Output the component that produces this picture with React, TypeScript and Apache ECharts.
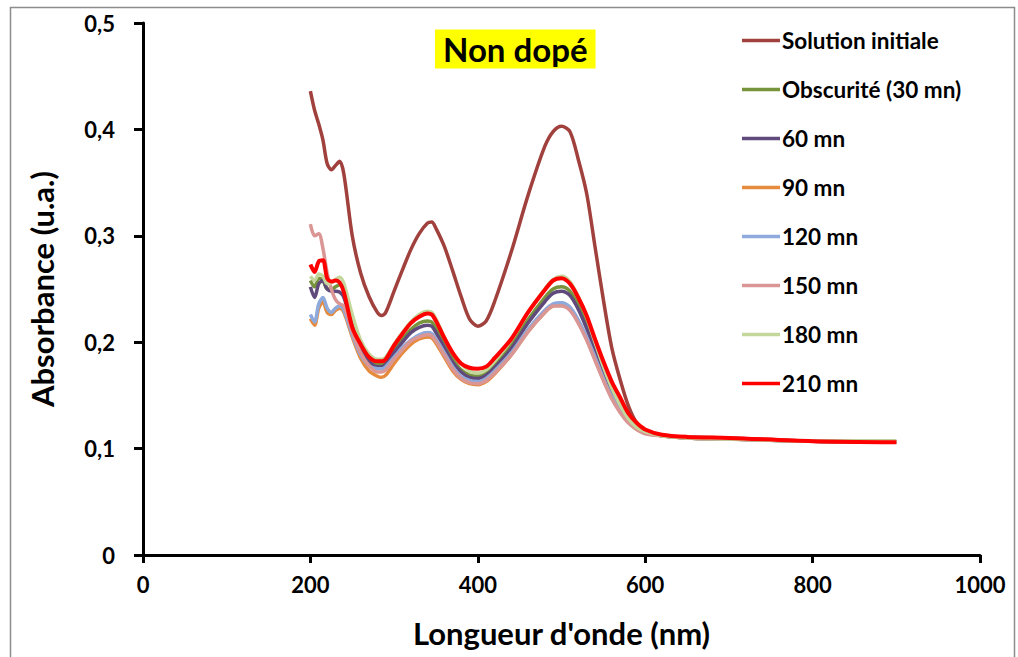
import React, { useEffect, useRef } from "react";
import * as echarts from "echarts";

const wavelengths = [200, 205, 210, 215, 220, 225, 230, 235, 240, 250, 260, 270, 280, 285, 290, 300, 310, 320, 330, 340, 345, 350, 360, 370, 380, 390, 400, 410, 420, 440, 460, 480, 490, 500, 510, 520, 530, 540, 550, 560, 570, 580, 590, 600, 620, 650, 700, 800, 900];

const seriesNames = ["Solution initiale", "Obscurité (30 mn)", "60 mn", "90 mn", "120 mn", "150 mn", "180 mn", "210 mn"];
const seriesColors = ["#A0413D", "#77933C", "#604A7B", "#E68A3E", "#8EA9DB", "#D99694", "#C3D69B", "#FF0000"];

const solutionInitiale = [0.436, 0.418, 0.405, 0.39, 0.368, 0.362, 0.366, 0.37, 0.358, 0.3, 0.265, 0.243, 0.228, 0.225, 0.228, 0.248, 0.268, 0.287, 0.302, 0.312, 0.313, 0.307, 0.29, 0.267, 0.243, 0.222, 0.215, 0.22, 0.238, 0.285, 0.338, 0.384, 0.398, 0.403, 0.398, 0.372, 0.34, 0.29, 0.24, 0.195, 0.165, 0.14, 0.124, 0.117, 0.112, 0.111, 0.11, 0.107, 0.106];
const obscurite30 = [0.258, 0.252, 0.26, 0.258, 0.25, 0.25, 0.252, 0.254, 0.248, 0.22, 0.198, 0.185, 0.179, 0.179, 0.181, 0.192, 0.203, 0.212, 0.218, 0.22, 0.219, 0.213, 0.198, 0.184, 0.174, 0.169, 0.168, 0.171, 0.178, 0.197, 0.221, 0.242, 0.25, 0.252, 0.248, 0.235, 0.217, 0.195, 0.173, 0.154, 0.139, 0.127, 0.12, 0.116, 0.112, 0.11, 0.109, 0.107, 0.107];
const mn60 = [0.252, 0.242, 0.255, 0.258, 0.25, 0.248, 0.248, 0.247, 0.242, 0.215, 0.194, 0.182, 0.177, 0.177, 0.179, 0.19, 0.2, 0.209, 0.214, 0.216, 0.215, 0.209, 0.195, 0.181, 0.172, 0.167, 0.166, 0.169, 0.176, 0.194, 0.218, 0.238, 0.246, 0.248, 0.244, 0.231, 0.213, 0.192, 0.17, 0.152, 0.137, 0.126, 0.119, 0.115, 0.112, 0.11, 0.109, 0.107, 0.106];
const mn90 = [0.222, 0.216, 0.232, 0.238, 0.228, 0.226, 0.23, 0.232, 0.228, 0.205, 0.185, 0.173, 0.168, 0.167, 0.169, 0.18, 0.19, 0.198, 0.203, 0.205, 0.204, 0.199, 0.186, 0.173, 0.165, 0.161, 0.16, 0.163, 0.17, 0.188, 0.21, 0.228, 0.234, 0.235, 0.231, 0.219, 0.203, 0.184, 0.165, 0.148, 0.135, 0.125, 0.118, 0.115, 0.112, 0.11, 0.109, 0.107, 0.106];
const mn120 = [0.226, 0.219, 0.236, 0.242, 0.232, 0.228, 0.232, 0.234, 0.23, 0.207, 0.188, 0.178, 0.175, 0.175, 0.177, 0.186, 0.195, 0.202, 0.207, 0.209, 0.208, 0.203, 0.19, 0.177, 0.168, 0.164, 0.163, 0.166, 0.173, 0.19, 0.212, 0.23, 0.236, 0.237, 0.233, 0.221, 0.205, 0.186, 0.166, 0.149, 0.136, 0.125, 0.119, 0.115, 0.112, 0.11, 0.109, 0.107, 0.106];
const mn150 = [0.311, 0.3, 0.302, 0.288, 0.265, 0.25, 0.24, 0.236, 0.234, 0.21, 0.19, 0.178, 0.172, 0.172, 0.174, 0.184, 0.193, 0.201, 0.205, 0.207, 0.206, 0.201, 0.188, 0.175, 0.166, 0.162, 0.161, 0.164, 0.171, 0.188, 0.21, 0.228, 0.234, 0.234, 0.23, 0.218, 0.202, 0.183, 0.164, 0.147, 0.134, 0.124, 0.118, 0.114, 0.112, 0.11, 0.109, 0.107, 0.106];
const mn180 = [0.262, 0.258, 0.264, 0.262, 0.255, 0.256, 0.259, 0.261, 0.255, 0.226, 0.202, 0.189, 0.184, 0.184, 0.186, 0.198, 0.209, 0.219, 0.226, 0.229, 0.228, 0.222, 0.205, 0.19, 0.18, 0.173, 0.171, 0.174, 0.182, 0.202, 0.228, 0.25, 0.259, 0.262, 0.257, 0.243, 0.224, 0.2, 0.177, 0.157, 0.141, 0.128, 0.12, 0.116, 0.112, 0.11, 0.109, 0.107, 0.107];
const mn210 = [0.273, 0.266, 0.276, 0.277, 0.26, 0.257, 0.258, 0.256, 0.247, 0.214, 0.198, 0.186, 0.182, 0.182, 0.184, 0.197, 0.208, 0.218, 0.224, 0.227, 0.226, 0.22, 0.204, 0.19, 0.18, 0.176, 0.175, 0.177, 0.185, 0.203, 0.228, 0.249, 0.258, 0.26, 0.255, 0.242, 0.225, 0.203, 0.182, 0.163, 0.148, 0.133, 0.124, 0.118, 0.113, 0.111, 0.11, 0.107, 0.106];

const seriesValues = [solutionInitiale, obscurite30, mn60, mn90, mn120, mn150, mn180, mn210];

const xTicks = [0, 200, 400, 600, 800, 1000];
const yTicks = [0, 0.1, 0.2, 0.3, 0.4, 0.5];

const FONT = "Lato, 'Noto Sans', sans-serif";

export default function App() {
  const ref = useRef<HTMLDivElement>(null);
  useEffect(() => {
    if (!ref.current) return;
    const chart = echarts.init(ref.current, undefined, { renderer: "svg" });
    chart.setOption({
      animation: false,
      backgroundColor: "#ffffff",
      title: {
        text: "Non dopé",
        left: 435,
        top: 30,
        backgroundColor: "#FFFF00",
        padding: [3, 8, 3, 8],
        textStyle: { fontFamily: FONT, fontSize: 33, fontWeight: "bold", color: "#000", lineHeight: 32 },
      },
      legend: {
        orient: "vertical",
        left: 742,
        top: 29,
        padding: 0,
        icon: "rect",
        itemWidth: 38,
        itemHeight: 3.5,
        itemGap: 26,
        textStyle: { fontFamily: FONT, fontSize: 22.5, fontWeight: "bold", color: "#000", lineHeight: 22, padding: [0, 0, 0, -3] },
        data: seriesNames,
      },
      grid: { left: 143, right: 38, top: 23, bottom: 102, containLabel: false },
      xAxis: {
        type: "value",
        min: xTicks[0],
        max: xTicks[xTicks.length - 1],
        interval: 200,
        name: "Longueur d'onde (nm)",
        nameLocation: "middle",
        nameGap: 62,
        nameTextStyle: { fontFamily: FONT, fontSize: 31, fontWeight: "bold", color: "#000" },
        axisLine: { show: true, lineStyle: { color: "#000", width: 3 } },
        axisTick: { show: true, inside: false, length: 8, lineStyle: { color: "#000", width: 3 } },
        axisLabel: { fontFamily: FONT, fontSize: 22, fontWeight: "bold", color: "#000", margin: 18, formatter: (v: number) => String(v) },
        splitLine: { show: false },
      },
      yAxis: {
        type: "value",
        min: yTicks[0],
        max: yTicks[yTicks.length - 1],
        interval: 0.1,
        name: "Absorbance (u.a.)",
        nameLocation: "middle",
        nameGap: 86,
        nameRotate: 90,
        nameTextStyle: { fontFamily: FONT, fontSize: 31, fontWeight: "bold", color: "#000" },
        axisLine: { show: true, lineStyle: { color: "#000", width: 3 } },
        axisTick: { show: true, inside: false, length: 9, lineStyle: { color: "#000", width: 3 } },
        axisLabel: {
          fontFamily: FONT,
          fontSize: 22,
          fontWeight: "bold",
          color: "#000",
          margin: 28,
          formatter: (v: number) => (v === 0 ? "0" : v.toFixed(1).replace(".", ",")),
        },
        splitLine: { show: false },
      },
      graphic: [
        {
          type: "rect",
          left: 8,
          top: 5,
          shape: { width: 1004, height: 680 },
          style: { fill: "none", stroke: "#8c8c8c", lineWidth: 1.5 },
          silent: true,
          z: -1,
        },
      ],
      series: seriesNames.map((name, i) => ({
        name,
        type: "line",
        data: wavelengths.map((w, j) => [w, seriesValues[i][j]]),
        showSymbol: false,
        symbol: "none",
        smooth: 0.3,
        color: seriesColors[i],
        lineStyle: { color: seriesColors[i], width: i === 7 ? 4 : 3.5 },
        z: 2 + i,
      })),
    });
    return () => chart.dispose();
  }, []);
  return <div ref={ref} style={{ position: "fixed", left: 0, top: 0, width: 1018, height: 657 }} />;
}
